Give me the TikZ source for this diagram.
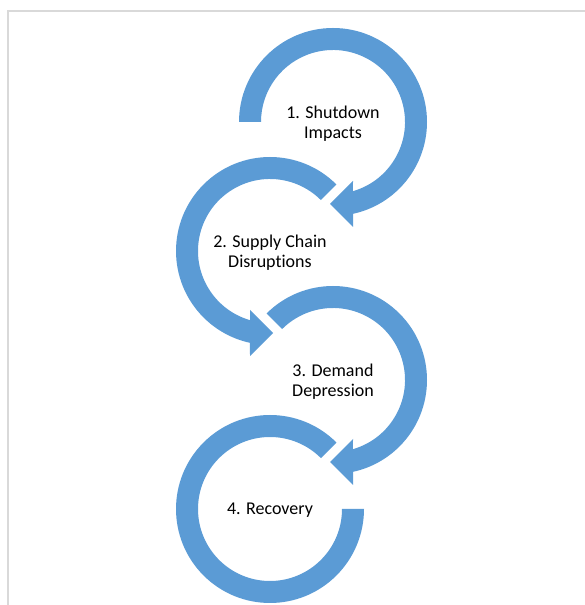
\documentclass[tikz,border=0pt]{standalone}
\usepackage{fontspec}
\setmainfont{Carlito}[Ligatures={NoCommon}]
\usepackage{tikz}
\usetikzlibrary{calc}
\definecolor{ringblue}{HTML}{5B9BD5}
\definecolor{framegray}{HTML}{D9D9D9}

\begin{document}
\begin{tikzpicture}[
  x=1pt, y=1pt,
  lbl/.style={align=center, font=\fontsize{18}{20.5}\selectfont, inner sep=0pt, yshift=-1.5pt},
  ring/.style={fill=ringblue, draw=none},
  frame/.style={draw=framegray, line width=2.5pt}
]
\useasboundingbox (0,0) rectangle (584,605);
%% frame (only its top and left edges fall inside)
\draw[frame] (8,-2) |- (586,594);
%% stage labels, one in each ring
\node[lbl] (shutdown) at (333,483) {1. Shutdown\\Impacts};
\node[lbl] (supply)   at (270,354) {2. Supply Chain\\Disruptions};
\node[lbl] (demand)   at (333,225) {3. Demand\\Depression};
\node[lbl] (recovery) at (270,96)  {4. Recovery};
%% ring centres
\coordinate (c1) at (333,483);
\coordinate (c2) at (270,354);
\coordinate (c3) at (333,225);
\coordinate (c4) at (270,96);
%% ring 1: clockwise from the left, head points into ring 2
\fill[ring] ($(c1)+(180:94)$) arc[start angle=180, end angle=-77.7, radius=94]
    -- ($(c1)+(20,-105)$) -- ($(c1)+(-3,-82)$)
    -- ($(c1)+(20,-59)$) -- ($(c1)+(-73.9:72)$)
    arc[start angle=-73.9, end angle=180, radius=72] -- cycle;
%% ring 2: counter-clockwise, head points into ring 3
\fill[ring] ($(c2)+(45:94)$) arc[start angle=45, end angle=257.7, radius=94]
    -- ($(c2)+(-20,-105)$) -- ($(c2)+(3,-82)$)
    -- ($(c2)+(-20,-59)$) -- ($(c2)+(253.9:72)$)
    arc[start angle=253.9, end angle=45, radius=72] -- cycle;
%% ring 3: clockwise, head points into ring 4
\fill[ring] ($(c3)+(135:94)$) arc[start angle=135, end angle=-77.7, radius=94]
    -- ($(c3)+(20,-105)$) -- ($(c3)+(-3,-82)$)
    -- ($(c3)+(20,-59)$) -- ($(c3)+(-73.9:72)$)
    arc[start angle=-73.9, end angle=135, radius=72] -- cycle;
%% ring 4: open ring, no head
\fill[ring] ($(c4)+(45:94)$) arc[start angle=45, end angle=360, radius=94]
    -- ($(c4)+(0:72)$)
    arc[start angle=360, end angle=45, radius=72] -- cycle;
\end{tikzpicture}
\end{document}
